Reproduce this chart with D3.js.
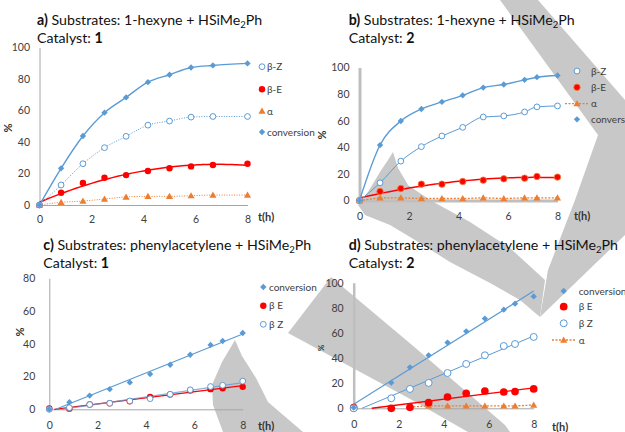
<!DOCTYPE html>
<html>
<head>
<meta charset="utf-8">
<script src="https://cdn.jsdelivr.net/npm/d3@7"></script>
<style>
  body { margin: 0; background: #fff; }
  svg { display: block; font-family: Lato, "Open Sans", sans-serif; }
</style>
</head>
<body>
<svg id="chart" width="625" height="432"></svg>
<script>
// ---- data (time in h, values in %) ----
const tA = [0, 0.83, 1.67, 2.5, 3.33, 4.17, 5, 5.83, 6.67, 8];
const convA = [0, 23.3, 43.8, 58.6, 68.3, 78, 82.7, 87.3, 88.6, 89.9];
const betaZA = [0, 12.7, 26.2, 36.4, 43.6, 50.7, 53.3, 55.8, 56.2, 56.2];
const betaEA = [0, 7.8, 14, 17.3, 19, 21.6, 23.3, 24.5, 25.4, 26.2];
const alphaA = [0, 1.7, 2.5, 3.8, 5.1, 5.5, 5.5, 5.9, 6.3, 6.3];

const tB = [0, 0.83, 1.67, 2.5, 3.33, 4.17, 5, 5.83, 6.67, 7.17, 8];
const convB = [0, 41.7, 59.8, 68.8, 74.1, 79.1, 84.9, 87.2, 90.7, 92.7, 94];
const betaZB = [0, 13.3, 29.6, 40.5, 48.5, 55, 62.8, 63.6, 66.6, 70.4, 71.1];
const betaEB = [0, 6.8, 9, 12.3, 12.3, 14.3, 15.3, 16.3, 16.8, 18.1, 17.6];
const alphaB = [0, 2, 2, 1.5, 1.5, 1.5, 2, 1.5, 2, 2, 2];

const tC = [0, 0.83, 1.67, 2.5, 3.33, 4.17, 5, 5.83, 6.67, 7.17, 8];
const convC = [0, 4.3, 8.4, 12.3, 16.4, 21.5, 27.2, 33.3, 39.3, 41.7, 46.6];
const betaEC = [0.5, 0.4, 2.9, 3.7, 4.9, 7.6, 9, 11.5, 12.3, 12.9, 13.7];
const betaZC = [0, 1, 2.9, 3.7, 5.1, 6.5, 9.2, 11.9, 13.9, 14.7, 17.2];

const tD = [0, 1.67, 2.5, 3.33, 4.17, 5, 5.83, 6.67, 7.17, 8];
const convD = [0.5, 20.4, 32.6, 42.2, 52.3, 61.3, 71.4, 78.5, 83.3, 89.1];
const betaED = [0.5, 0, 0.8, 4.5, 9, 11.9, 13.8, 13, 13.3, 15.4];
const betaZD = [0, 8, 15.4, 20.2, 28.1, 35.3, 42.2, 49.6, 51.2, 56.8];
const tAlphaD = [2.5, 3.33, 4.17, 5, 5.83, 6.67, 7.17, 8];
const alphaD = [1, 1.9, 1.9, 1.9, 1.9, 1.9, 1.9, 2.6];

const timeTicks = [0, 2, 4, 6, 8];

const blue = "#5b9bd5", red = "#ff0000", orange = "#ed7d31";

const svg = d3.select("#chart");

// ---- grey watermark shapes in the background ----
const watermark = [
  [[500,0],[538,0],[625,100],[625,235],[540,317],[548,270],[575,200],[598,135]],
  [[393,152],[398,168],[408,185],[430,200],[470,222],[510,248],[545,280],[540,317],[520,300],[490,283],[450,262],[415,240],[390,225],[365,215],[358,205],[368,192],[380,172],[388,160]],
  [[288,333],[331,277],[412,345],[505,425],[510,432],[468,432],[412,400]],
  [[235,340],[242,356],[256,378],[268,402],[303,432],[223,432],[213,405],[212,385],[222,362]]
];
svg.append("g").selectAll("path")
  .data(watermark).enter().append("path")
  .attr("d", d => "M" + d.join("L") + "Z")
  .attr("fill", "#c8c8c8");

// ---- helpers ----
function linFit(xs, ys) {
  const mx = d3.mean(xs), my = d3.mean(ys);
  let sxy = 0, sxx = 0;
  xs.forEach((x, i) => { sxy += (x - mx) * (ys[i] - my); sxx += (x - mx) * (x - mx); });
  const m = sxy / sxx;
  return { m: m, b: my - m * mx };
}

// quadratic least squares
function polyFit(xs, ys) {
  const n = 3;
  const A = [], B = [];
  for (let r = 0; r < n; r++) {
    A.push([]);
    for (let c = 0; c < n; c++) A[r].push(d3.sum(xs, x => Math.pow(x, r + c)));
    B.push(d3.sum(xs, (x, i) => Math.pow(x, r) * ys[i]));
  }
  for (let k = 0; k < n; k++) {
    for (let r = k + 1; r < n; r++) {
      const f = A[r][k] / A[k][k];
      for (let c = k; c < n; c++) A[r][c] -= f * A[k][c];
      B[r] -= f * B[k];
    }
  }
  const co = [0, 0, 0];
  for (let r = n - 1; r >= 0; r--) {
    let s = B[r];
    for (let c = r + 1; c < n; c++) s -= A[r][c] * co[c];
    co[r] = s / A[r][r];
  }
  return x => co[0] + co[1] * x + co[2] * x * x;
}

function marker(sel, type, color, scale) {
  const k = scale || 1;
  if (type === "diamond") {
    sel.append("path").attr("d", d3.symbol(d3.symbolSquare, 20 * k)())
      .attr("transform", "rotate(45)").attr("fill", color);
  } else if (type === "dot") {
    sel.append("circle").attr("r", 3.2 * k).attr("fill", color);
  } else if (type === "dotB") {
    sel.append("circle").attr("r", 3.2 * k).attr("fill", color).attr("stroke", orange).attr("stroke-width", 0.8);
  } else if (type === "ring") {
    sel.append("circle").attr("r", 2.9 * k).attr("fill", "#fff").attr("stroke", color).attr("stroke-width", 1);
  } else if (type === "tri") {
    sel.append("path").attr("d", d3.symbol(d3.symbolTriangle, 22 * k)())
      .attr("transform", "translate(0,0.6)").attr("fill", color);
  }
}

function drawPanel(cfg) {
  const g = svg.append("g");
  const x = d3.scaleLinear().domain([0, 8]).range([cfg.x0, cfg.x1]);
  const y = d3.scaleLinear().domain([0, cfg.ymax]).range([cfg.y0, cfg.y1]);

  // title
  const t1 = g.append("text").attr("x", cfg.tx).attr("y", cfg.ty).attr("font-size", 14.2).attr("fill", "#111");
  t1.append("tspan").attr("font-weight", "bold").text(cfg.letter + ")");
  t1.append("tspan").text(" Substrates: " + cfg.substrate + " + HSiMe");
  t1.append("tspan").attr("font-size", 9.5).attr("dy", 3).text("2");
  t1.append("tspan").attr("dy", -3).text("Ph");
  const t2 = g.append("text").attr("x", cfg.tx).attr("y", cfg.ty + 18).attr("font-size", 14.2).attr("fill", "#111");
  t2.append("tspan").text("Catalyst: ");
  t2.append("tspan").attr("font-weight", "bold").text(cfg.catalyst);

  // axes
  const ya = g.append("g").attr("transform", `translate(${cfg.x0},0)`)
    .call(d3.axisLeft(y).ticks(cfg.ymax / 20).tickSize(0).tickPadding(cfg.ypad));
  ya.select(".domain").attr("stroke", cfg.yAxisColor).attr("stroke-width", cfg.yAxisW);
  const xa = g.append("g").attr("transform", `translate(0,${cfg.y0})`)
    .call(d3.axisBottom(x).tickValues(timeTicks).tickSize(0).tickPadding(cfg.xpad));
  xa.select(".domain").attr("stroke", cfg.xAxisColor).attr("stroke-width", cfg.xAxisW);
  g.selectAll(".tick text").attr("font-size", 10.5).attr("fill", "#404040").attr("font-family", "Lato, sans-serif");

  g.append("text").attr("transform", `translate(${cfg.pct[0]},${cfg.pct[1]}) rotate(-90)`)
    .attr("text-anchor", "middle").attr("font-weight", "bold").attr("font-size", cfg.pctSize || 11)
    .attr("fill", "#333").text("%");
  g.append("text").attr("x", cfg.th[0]).attr("y", cfg.th[1]).attr("font-weight", "bold")
    .attr("font-size", 11).attr("fill", "#333").text("t(h)");

  // lines
  cfg.series.forEach(s => {
    const pts = s.t.map((tt, i) => [tt, s.v[i]]);
    let linePts;
    let curve = d3.curveLinear;
    if (s.line === "smooth") { linePts = pts; curve = d3.curveMonotoneX; }
    else if (s.line === "segments") { linePts = pts; }
    else if (s.line === "poly") {
      const f = polyFit(s.t, s.v);
      linePts = d3.range(0, 8.001, 0.2).map(tt => [tt, f(tt)]);
      curve = d3.curveMonotoneX;
    } else if (s.line === "linear") {
      const fit = linFit(s.t, s.v);
      const start = Math.max(0, -fit.b / fit.m);
      linePts = [[start, fit.m * start + fit.b], [8, fit.m * 8 + fit.b]];
    }
    g.append("path")
      .attr("d", d3.line().x(d => x(d[0])).y(d => y(d[1])).curve(curve)(linePts))
      .attr("fill", "none")
      .attr("stroke", s.color)
      .attr("stroke-width", s.lw || 1.3)
      .attr("stroke-dasharray", s.dash || null)
      .attr("opacity", s.op || 1);
  });

  // markers
  cfg.series.forEach(s => {
    const pts = s.t.map((tt, i) => [tt, s.v[i]]);
    g.append("g").selectAll("g").data(pts).enter().append("g")
      .attr("transform", d => `translate(${x(d[0])},${y(d[1])})`)
      .each(function() { marker(d3.select(this), s.marker, s.color, s.ms); });
  });

  // legend
  cfg.legend.forEach((name, i) => {
    const s = cfg.series.find(q => q.name === name);
    const ly = cfg.legRows[i];
    if (s.legLine) {
      g.append("line").attr("x1", s.legLine[0]).attr("x2", s.legLine[1]).attr("y1", ly).attr("y2", ly)
        .attr("stroke", s.color).attr("stroke-width", 1.3).attr("stroke-dasharray", "2,1.5");
    }
    const m = g.append("g").attr("transform", `translate(${cfg.legMx},${ly})`);
    marker(m, s.marker, s.color, s.ms);
    g.append("text").attr("x", cfg.legTx).attr("y", ly).attr("dy", "0.35em")
      .attr("font-size", 10).attr("fill", "#404040").text(name);
  });
}

drawPanel({
  letter: "a", substrate: "1-hexyne", catalyst: "1", tx: 37, ty: 25,
  x0: 39.5, x1: 247.5, y0: 205, y1: 47.5, ymax: 100, ypad: 9.5, xpad: 11,
  yAxisColor: "#a6a6a6", yAxisW: 1, xAxisColor: "#a6a6a6", xAxisW: 1,
  pct: [12, 128], th: [258, 221],
  series: [
    { name: "α", t: tA, v: alphaA, color: orange, marker: "tri", line: "smooth", lw: 1, dash: "1,1.5" },
    { name: "β-E", t: tA, v: betaEA, color: red, marker: "dot", line: "poly", lw: 1.5 },
    { name: "β-Z", t: tA, v: betaZA, color: blue, marker: "ring", line: "smooth", lw: 1, dash: "1,1.5" },
    { name: "conversion", t: tA, v: convA, color: blue, marker: "diamond", line: "smooth", lw: 1.4 }
  ],
  legend: ["β-Z", "β-E", "α", "conversion"], legRows: [66.7, 89.3, 111, 132], legMx: 262, legTx: 267
});

drawPanel({
  letter: "b", substrate: "1-hexyne", catalyst: "2", tx: 348.7, ty: 25,
  x0: 359.5, x1: 557.5, y0: 200.5, y1: 67.5, ymax: 100, ypad: 10, xpad: 12,
  yAxisColor: "#bfbfbf", yAxisW: 3, xAxisColor: "#bfbfbf", xAxisW: 3,
  pct: [325.5, 135], th: [574, 220],
  series: [
    { name: "α", t: tB, v: alphaB, color: orange, marker: "tri", line: "segments", lw: 1.3, dash: "2,1.5", legLine: [565, 589] },
    { name: "β-E", t: tB, v: betaEB, color: red, marker: "dotB", line: "poly", lw: 1.5 },
    { name: "β-Z", t: tB, v: betaZB, color: blue, marker: "ring", line: "smooth", lw: 1 },
    { name: "conversion", t: tB, v: convB, color: blue, marker: "diamond", line: "smooth", lw: 1.4 }
  ],
  legend: ["β-Z", "β-E", "α", "conversion"], legRows: [71, 87.3, 103.7, 119.3], legMx: 577, legTx: 591
});

drawPanel({
  letter: "c", substrate: "phenylacetylene", catalyst: "1", tx: 43.3, ty: 250,
  x0: 49.3, x1: 242.7, y0: 409.3, y1: 278.3, ymax: 80, ypad: 14, xpad: 12,
  yAxisColor: "#a6a6a6", yAxisW: 1, xAxisColor: "#a6a6a6", xAxisW: 1,
  pct: [24, 332], th: [258, 430],
  series: [
    { name: "β E", t: tC, v: betaEC, color: red, marker: "dot", line: "linear", lw: 1.3 },
    { name: "β Z", t: tC, v: betaZC, color: blue, marker: "ring", line: "linear", lw: 1.2, op: 0.75 },
    { name: "conversion", t: tC, v: convC, color: blue, marker: "diamond", line: "linear", lw: 1.2 }
  ],
  legend: ["conversion", "β E", "β Z"], legRows: [287, 305.7, 324.3], legMx: 263.3, legTx: 269
});

drawPanel({
  letter: "d", substrate: "phenylacetylene", catalyst: "2", tx: 348.7, ty: 250,
  x0: 353.7, x1: 533.7, y0: 408.3, y1: 282.7, ymax: 100, ypad: 10, xpad: 12,
  yAxisColor: "#bfbfbf", yAxisW: 2.5, xAxisColor: "#a6a6a6", xAxisW: 1,
  pct: [323.7, 348], pctSize: 8, th: [552, 431],
  series: [
    { name: "α", t: tAlphaD, v: alphaD, color: orange, marker: "tri", line: "segments", lw: 1.3, dash: "2,1.5", legLine: [552, 575] },
    { name: "β E", t: tD, v: betaED, color: red, marker: "dot", line: "linear", lw: 1.4, ms: 1.2 },
    { name: "β Z", t: tD, v: betaZD, color: blue, marker: "ring", line: "linear", lw: 1, ms: 1.2 },
    { name: "conversion", t: tD, v: convD, color: blue, marker: "diamond", line: "linear", lw: 1.2 }
  ],
  legend: ["conversion", "β E", "β Z", "α"], legRows: [291, 306.7, 323.3, 340], legMx: 563.7, legTx: 578.7
});
</script>
</body>
</html>
